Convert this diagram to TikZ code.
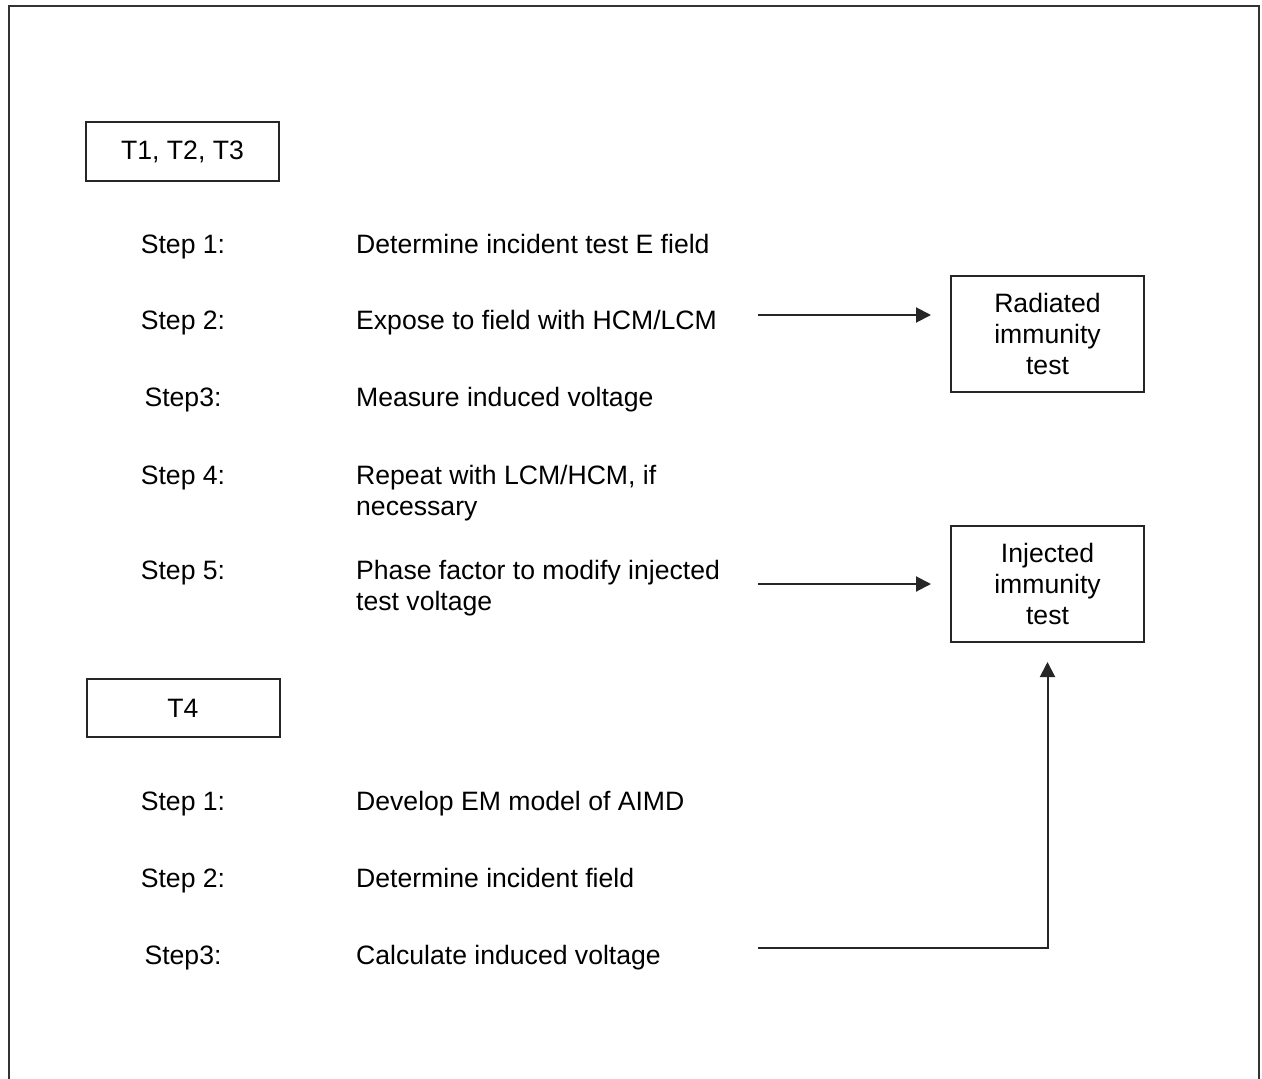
\documentclass[tikz,border=0pt]{standalone}
\usepackage{fontspec}
\setmainfont{Liberation Sans}
\usetikzlibrary{arrows.meta}
\begin{document}
\begin{tikzpicture}[x=1pt,y=-1pt,
  every node/.style={font=\fontsize{26.6}{31}\selectfont, inner sep=0pt},
  tbox/.style={draw=black!85, line width=2pt, minimum width=193pt, align=center},
  steplabel/.style={anchor=base},
  desc/.style={anchor=base west},
  desctwo/.style={anchor=west, align=left},
  flow/.style={line width=2pt, draw=black!85, -{Triangle[length=15pt,width=15pt]}, shorten >=19pt}]
  \useasboundingbox (0,0) rectangle (1262,1079);
  % open frame, running off the lower edge
  \draw[line width=2.2pt, draw=black!80] (9,1090) -- (9,6) -- (1259,6) -- (1259,1090);

  % group headers
  \node[tbox, minimum height=59pt] (t123) at (182.5,151.5) {T1, T2, T3};
  \node[tbox, minimum height=58pt] (t4) at (183,708) {T4};

  % result boxes
  \node[tbox, minimum height=116pt] (rad) at (1047.5,334) {Radiated\\immunity\\test};
  \node[tbox, minimum height=116pt] (inj) at (1047.5,584) {Injected\\immunity\\test};

  % steps for T1, T2, T3 (single lines placed on their baselines)
  \node[steplabel] (sa1) at (183,253.5) {Step 1:};
  \node[steplabel] (sa2) at (183,329.5) {Step 2:};
  \node[steplabel] (sa3) at (183,406.5) {Step3:};
  \node[steplabel] (sa4) at (183,484.5) {Step 4:};
  \node[steplabel] (sa5) at (183,579.5) {Step 5:};
  \node[desc] (da1) at (356,253.5) {Determine incident test E field};
  \node[desc] (da2) at (356,329.5) {Expose to field with HCM/LCM};
  \node[desc] (da3) at (356,406.5) {Measure induced voltage};
  \node[desctwo] (da4) at (356,493.5) {Repeat with LCM/HCM, if\\necessary};
  \node[desctwo] (da5) at (356,588.5) {Phase factor to modify injected\\test voltage};

  % steps for T4
  \node[steplabel] (sb1) at (183,810.5) {Step 1:};
  \node[steplabel] (sb2) at (183,887.5) {Step 2:};
  \node[steplabel] (sb3) at (183,964.5) {Step3:};
  \node[desc] (db1) at (356,810.5) {Develop EM model of AIMD};
  \node[desc] (db2) at (356,887.5) {Determine incident field};
  \node[desc] (db3) at (356,964.5) {Calculate induced voltage};

  % connectors
  \coordinate (p2) at (758,315);
  \coordinate (p5) at (758,584);
  \coordinate (q3) at (758,948);
  \draw[flow] (p2) -- (p2 -| rad.west);
  \draw[flow] (p5) -- (p5 -| inj.west);
  \draw[flow] (q3) -- (q3 -| inj.south) -- (inj.south);
\end{tikzpicture}
\end{document}
